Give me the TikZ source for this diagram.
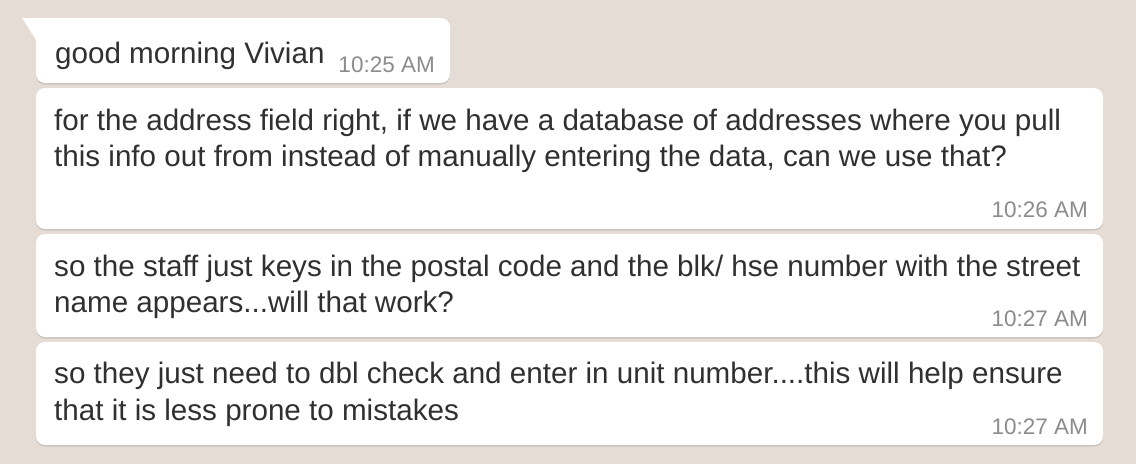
\documentclass[tikz,border=0pt]{standalone}
\usepackage{fontspec}
\setmainfont{Liberation Sans}
\definecolor{bg}{HTML}{E5DDD5}
\definecolor{txt}{HTML}{303030}
\definecolor{stamp}{HTML}{8C8C8C}
\definecolor{shade}{HTML}{C9C1B9}
\begin{document}
\begin{tikzpicture}[x=1pt,y=-1pt,
  bubble/.style={fill=white,rounded corners=9pt},
  bshadow/.style={fill=shade,rounded corners=9pt},
  msg/.style={anchor=base west,inner sep=0pt,text=txt,font=\fontsize{29.6}{36}\selectfont},
  stampnode/.style={anchor=base east,inner sep=0pt,text=stamp,font=\fontsize{22.5}{26}\selectfont}]
\fill[bg] (0,0) rectangle (1136,464);
\useasboundingbox (0,0) rectangle (1136,464);
% bubble 1 with tail
\fill[bshadow] (36,19.5) rectangle (450,84.5);
\fill[bubble] (36,18) rectangle (450,83);
\fill[white] (36,18) rectangle (50,40);
\fill[white] (22,18) -- (36,18) -- (36,40) -- (24.5,21.5) .. controls (23.5,20) and (22.5,19) .. cycle;
% bubbles 2-4
\fill[bshadow] (36,89.5) rectangle (1103,230.5);
\fill[bubble] (36,88) rectangle (1103,229);
\fill[bshadow] (36,235.5) rectangle (1103,338.5);
\fill[bubble] (36,234) rectangle (1103,337);
\fill[bshadow] (36,343.5) rectangle (1103,446.5);
\fill[bubble] (36,342) rectangle (1103,445);
% texts
\node[msg] (m1) at (55,63) {good morning Vivian};
\node[stampnode] (t1) at (435,72) {10:25 AM};
\node[msg] (m2a) at (54,130.5) {for the address field right, if we have a database of addresses where you pull};
\node[msg] (m2b) at (54,166.5) {this info out from instead of manually entering the data, can we use that?};
\node[stampnode] (t2) at (1088,217) {10:26 AM};
\node[msg] (m3a) at (54,276) {so the staff just keys in the postal code and the blk/ hse number with the street};
\node[msg] (m3b) at (54,312.5) {name appears...will that work?};
\node[stampnode] (t3) at (1088,326) {10:27 AM};
\node[msg] (m4a) at (54,383.3) {so they just need to dbl check and enter in unit number....this will help ensure};
\node[msg] (m4b) at (54,420) {that it is less prone to mistakes};
\node[stampnode] (t4) at (1088,434) {10:27 AM};
\end{tikzpicture}
\end{document}
